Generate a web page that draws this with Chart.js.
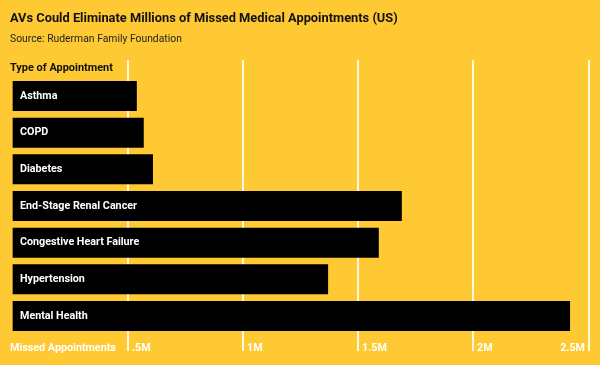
<!DOCTYPE html>
<html><head><meta charset="utf-8">
<script src="https://cdn.jsdelivr.net/npm/chart.js@4"></script>
<style>html,body{margin:0;padding:0;background:#FFC933;overflow:hidden}#wrap{width:600px;height:365px;position:relative}canvas{display:block}</style>
</head><body><div id="wrap"><canvas id="c" width="600" height="365"></canvas></div>
<script>
const categories = ['Asthma','COPD','Diabetes','End-Stage Renal Cancer','Congestive Heart Failure','Hypertension','Mental Health'];
const missedAppointments = [540000, 570000, 610000, 1690000, 1590000, 1370000, 2420000];
const tickValues = [500000, 1000000, 1500000, 2000000, 2500000];
const tickLabels = ['.5M', '1M', '1.5M', '2M', '2.5M'];
const titleText = 'AVs Could Eliminate Millions of Missed Medical Appointments (US)';
const subtitleText = 'Source: Ruderman Family Foundation';
const categoryAxisTitle = 'Type of Appointment';
const valueAxisTitle = 'Missed Appointments';

const FAM = 'Roboto, "Liberation Sans", sans-serif';
function fitSize(ctx, text, weight, target) {
  ctx.font = weight + ' 100px ' + FAM;
  return 100 * target / ctx.measureText(text).width;
}
function drawText(ctx, text, x, y, weight, size, color, align) {
  ctx.font = weight + ' ' + size.toFixed(2) + 'px ' + FAM;
  ctx.fillStyle = color;
  ctx.textAlign = align || 'left';
  ctx.textBaseline = 'middle';
  ctx.fillText(text, x, y);
}

const decor = {
  id: 'decor',
  beforeDatasetsDraw(chart) {
    const ctx = chart.ctx, xs = chart.scales.x;
    ctx.save();
    ctx.strokeStyle = 'rgba(255,250,235,0.95)';
    ctx.lineWidth = 2;
    tickValues.forEach(v => {
      const px = Math.round(xs.getPixelForValue(v));
      ctx.beginPath(); ctx.moveTo(px, 60); ctx.lineTo(px, 351); ctx.stroke();
    });
    ctx.restore();
  },
  afterDatasetsDraw(chart) {
    const ctx = chart.ctx, xs = chart.scales.x;
    ctx.save();
    drawText(ctx, titleText, 10, 19, '700', fitSize(ctx, titleText, '700', 388), '#111');
    drawText(ctx, subtitleText, 10, 39, '400', fitSize(ctx, subtitleText, '400', 172), '#222');
    drawText(ctx, categoryAxisTitle, 10, 68, '700', fitSize(ctx, categoryAxisTitle, '700', 103), '#111');
    const barSize = fitSize(ctx, 'End-Stage Renal Cancer', '700', 117);
    const meta = chart.getDatasetMeta(0);
    meta.data.forEach((el, i) => {
      drawText(ctx, categories[i], 20, el.y, '700', barSize, '#fff');
    });
    const botSize = fitSize(ctx, valueAxisTitle, '700', 106);
    drawText(ctx, valueAxisTitle, 10, 348, '700', botSize, '#fff');
    tickValues.forEach((v, i) => {
      const px = Math.round(xs.getPixelForValue(v));
      if (i === tickValues.length - 1) drawText(ctx, tickLabels[i], px - 4, 348, '700', botSize, '#fff', 'right');
      else drawText(ctx, tickLabels[i], px + 4, 348, '700', botSize, '#fff', 'left');
    });
    ctx.restore();
  }
};

new Chart(document.getElementById('c'), {
  type: 'bar',
  data: {
    labels: categories,
    datasets: [{ data: missedAppointments, backgroundColor: '#000', borderWidth: 0, barPercentage: 0.818, categoryPercentage: 1 }]
  },
  options: {
    indexAxis: 'y',
    responsive: false,
    animation: false,
    devicePixelRatio: 1,
    layout: { padding: { left: 12.4, right: 11.5, top: 77.7, bottom: 30.7 } },
    scales: {
      x: { display: false, min: 0, max: 2500000 },
      y: { display: false }
    },
    plugins: { legend: { display: false }, tooltip: { enabled: false }, title: { display: false } }
  },
  plugins: [decor]
});
</script>
</body></html>
